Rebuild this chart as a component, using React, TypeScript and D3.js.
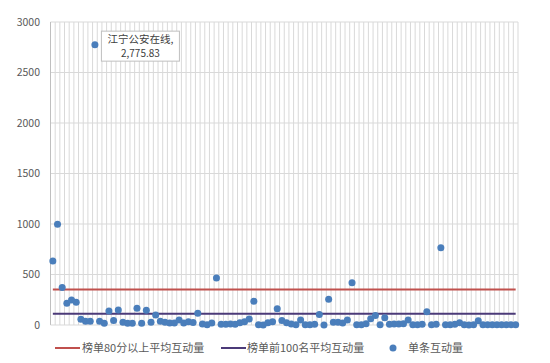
import * as d3 from "d3";
import { useEffect, useRef } from "react";

// ---- data ----
const ranks: number[] = Array.from({ length: 100 }, (_, i) => i + 1);
const interactions: number[] = [
  634, 997, 372, 215, 247, 225, 58, 38, 38, 2775.83,
  38, 17, 139, 45, 149, 28, 18, 18, 165, 18,
  147, 28, 100, 38, 27, 20, 20, 50, 20, 33,
  25, 116, 10, 2, 20, 466, 7, 7, 10, 7,
  23, 33, 59, 235, 2, 0, 23, 33, 160, 45,
  23, 10, 2, 50, 3, 3, 7, 104, 0, 254,
  27, 27, 20, 50, 419, 2, 2, 12, 62, 94,
  2, 73, 8, 10, 10, 12, 50, 3, 3, 8,
  132, 2, 8, 764, 3, 3, 8, 23, 3, 0,
  3, 43, 3, 3, 3, 3, 3, 3, 3, 3,
];
const avgAbove80 = 352;
const avgTop100 = 112;
const yTicks = [0, 500, 1000, 1500, 2000, 2500, 3000];
const seriesNames = ["榜单80分以上平均互动量", "榜单前100名平均互动量", "单条互动量"];
const labelName = "江宁公安在线";

export default function App() {
  const ref = useRef<SVGSVGElement>(null);

  useEffect(() => {
    const width = 550;
    const height = 363;
    const left = 50.5, right = 518, top = 22, bottom = 325;

    const svg = d3.select(ref.current);
    svg.selectAll("*").remove();
    svg.attr("viewBox", `0 0 ${width} ${height}`);

    const x = d3.scaleBand<number>().domain(ranks).range([left, right]).padding(0);
    const y = d3.scaleLinear().domain([0, 3000]).range([bottom, top]);
    const cx = (r: number) => (x(r) ?? 0) + x.bandwidth() / 2;

    const cjk = "'Noto Sans CJK SC', 'Noto Sans', sans-serif";

    // 垂直網格（分類邊界）
    svg.append("g")
      .attr("stroke", "#d9d9d9")
      .attr("stroke-width", 1)
      .selectAll("line")
      .data([...ranks.map((r) => x(r) ?? 0), right])
      .join("line")
      .attr("x1", (d) => d)
      .attr("x2", (d) => d)
      .attr("y1", top)
      .attr("y2", bottom);

    // 水平網格
    svg.append("g")
      .attr("stroke", "#d9d9d9")
      .selectAll("line")
      .data(yTicks.slice(1))
      .join("line")
      .attr("x1", left)
      .attr("x2", right)
      .attr("y1", (d) => y(d))
      .attr("y2", (d) => y(d));

    // 座標軸線
    svg.append("line")
      .attr("x1", left).attr("x2", left)
      .attr("y1", top).attr("y2", bottom)
      .attr("stroke", "#bfbfbf");
    svg.append("line")
      .attr("x1", left).attr("x2", right)
      .attr("y1", bottom).attr("y2", bottom)
      .attr("stroke", "#d9d9d9");

    // y 軸文字
    svg.append("g")
      .selectAll("text")
      .data(yTicks)
      .join("text")
      .attr("x", 40)
      .attr("y", (d) => y(d))
      .attr("dy", "0.35em")
      .attr("text-anchor", "end")
      .attr("font-family", cjk)
      .attr("font-size", 10.5)
      .attr("fill", "#595959")
      .text((d) => d);

    // 平均線
    const avgLine = d3.line<number>().x((r) => cx(r));
    svg.append("path")
      .datum(ranks)
      .attr("d", avgLine.y(() => y(avgAbove80)))
      .attr("fill", "none")
      .attr("stroke", "#c0504d")
      .attr("stroke-width", 2);
    svg.append("path")
      .datum(ranks)
      .attr("d", avgLine.y(() => y(avgTop100)))
      .attr("fill", "none")
      .attr("stroke", "#4b3a78")
      .attr("stroke-width", 2);

    // 點
    svg.append("g")
      .selectAll("circle")
      .data(interactions)
      .join("circle")
      .attr("cx", (_, i) => cx(ranks[i]))
      .attr("cy", (d) => y(d))
      .attr("r", 3.5)
      .attr("fill", "#4a7ebb");

    // 資料標籤
    const maxIdx = d3.maxIndex(interactions);
    const px = cx(ranks[maxIdx]);
    const py = y(interactions[maxIdx]);
    const lab = svg.append("g").attr("transform", `translate(${px + 6.5},${py - 13.5})`);
    lab.append("rect")
      .attr("width", 78)
      .attr("height", 30)
      .attr("fill", "#fff")
      .attr("stroke", "#bfbfbf");
    lab.append("text")
      .attr("x", 39).attr("y", 11.5)
      .attr("text-anchor", "middle")
      .attr("font-family", cjk)
      .attr("font-size", 10.5)
      .attr("fill", "#404040")
      .text(labelName + ",");
    lab.append("text")
      .attr("x", 39).attr("y", 25.5)
      .attr("text-anchor", "middle")
      .attr("font-family", cjk)
      .attr("font-size", 10)
      .attr("fill", "#404040")
      .text(d3.format(",.2f")(interactions[maxIdx]));

    // 圖例
    const legend = svg.append("g").attr("font-family", cjk).attr("font-size", 11).attr("fill", "#595959");
    const lx = [55, 221, 393];
    legend.append("line").attr("x1", lx[0]).attr("x2", lx[0] + 25).attr("y1", 348).attr("y2", 348)
      .attr("stroke", "#c0504d").attr("stroke-width", 2);
    legend.append("line").attr("x1", lx[1]).attr("x2", lx[1] + 25).attr("y1", 348).attr("y2", 348)
      .attr("stroke", "#4b3a78").attr("stroke-width", 2);
    legend.append("circle").attr("cx", lx[2]).attr("cy", 348).attr("r", 3.5).attr("fill", "#4a7ebb");
    legend.selectAll("text")
      .data(seriesNames)
      .join("text")
      .attr("x", (_, i) => [82, 247, 408][i])
      .attr("y", 348)
      .attr("dy", "0.35em")
      .text((d) => d);
  }, []);

  return (
    <svg
      ref={ref}
      width={550}
      height={363}
      style={{ position: "absolute", left: 0, top: 0, background: "#fff" }}
    />
  );
}
